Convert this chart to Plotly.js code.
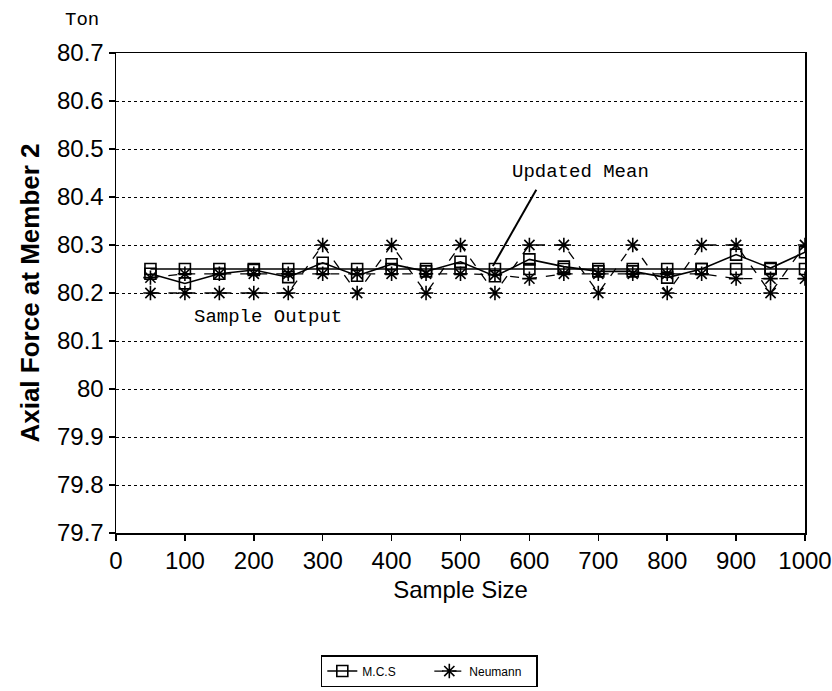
<!DOCTYPE html>
<html><head><meta charset="utf-8">
<script src="https://cdn.plot.ly/plotly-3.0.1.min.js"></script>
<style>html,body{margin:0;padding:0;background:#fff}#chart{width:832px;height:691px}</style>
</head><body><div id="chart"></div>
<script>
const sampleSize    = [50,100,150,200,250,300,350,400,450,500,550,600,650,700,750,800,850,900,950,1000];
const mcsSample     = [80.240,80.220,80.240,80.248,80.233,80.263,80.236,80.260,80.245,80.265,80.235,80.270,80.255,80.245,80.245,80.232,80.250,80.280,80.252,80.285];
const mcsMean       = [80.250,80.250,80.250,80.250,80.250,80.250,80.250,80.250,80.250,80.250,80.250,80.250,80.250,80.250,80.250,80.250,80.250,80.250,80.250,80.250];
const neumannSample = [80.2,80.2,80.2,80.2,80.2,80.3,80.2,80.3,80.2,80.3,80.2,80.3,80.3,80.2,80.3,80.2,80.3,80.3,80.2,80.3];
const neumannMean   = [80.232,80.240,80.240,80.240,80.240,80.240,80.240,80.240,80.240,80.240,80.238,80.230,80.240,80.240,80.240,80.240,80.240,80.230,80.230,80.230];
const yTickVals   = [79.7,79.8,79.9,80.0,80.1,80.2,80.3,80.4,80.5,80.6,80.7];
const yTickLabels = ["79.7","79.8","79.9","80","80.1","80.2","80.3","80.4","80.5","80.6","80.7"];
const xTickVals   = [0,100,200,300,400,500,600,700,800,900,1000];
const seriesNames = ["M.C.S","Neumann"];

const sq = {symbol:'square-open', size:11, color:'#000', line:{width:1.6,color:'#000'}};
const ast = {symbol:'asterisk-open', size:12, color:'#000', line:{width:1.6,color:'#000'}};

const traces = [
  {x:sampleSize, y:mcsMean, mode:'lines+markers', name:seriesNames[0], line:{color:'#000',width:1.6}, marker:sq, showlegend:true},
  {x:sampleSize, y:mcsSample, mode:'lines+markers', name:seriesNames[0], line:{color:'#000',width:1.6}, marker:sq, showlegend:false},
  {x:sampleSize, y:neumannSample, mode:'lines+markers', name:seriesNames[1], line:{color:'#000',width:1.3,dash:'dash'}, marker:ast, showlegend:true},
  {x:sampleSize, y:neumannMean, mode:'lines+markers', name:seriesNames[1], line:{color:'#000',width:1.3,dash:'dash'}, marker:ast, showlegend:false}
];

const layout = {
  width:832, height:691,
  margin:{l:116, r:27, t:53, b:158, autoexpand:false},
  paper_bgcolor:'#fff', plot_bgcolor:'#fff',
  font:{family:'Liberation Sans, Arial, sans-serif', color:'#000'},
  xaxis:{
    range:[0,1000], tickvals:xTickVals, ticktext:xTickVals.map(String),
    ticks:'outside', ticklen:6, tickwidth:1.5, tickcolor:'#000',
    showline:true, mirror:true, linecolor:'#000', linewidth:1.5,
    showgrid:false, zeroline:false,
    tickfont:{size:24, family:'Liberation Sans, Arial, sans-serif'},
    title:{text:'Sample Size', font:{size:24}, standoff:8}
  },
  yaxis:{
    range:[79.7,80.7], tickvals:yTickVals, ticktext:yTickLabels,
    ticks:'outside', ticklen:6, tickwidth:1.5, tickcolor:'#000',
    showline:true, mirror:true, linecolor:'#000', linewidth:1.5,
    showgrid:true, gridcolor:'#000', gridwidth:1, griddash:'dot', zeroline:false,
    tickfont:{size:24, family:'Liberation Sans, Arial, sans-serif'},
    title:{text:'<b>Axial Force at Member 2</b>', font:{size:26}, standoff:10}
  },
  legend:{
    orientation:'h', xref:'container', yref:'container', x:0.516, xanchor:'center', y:0.052, yanchor:'top',
    bordercolor:'#000', borderwidth:1.5, bgcolor:'#fff',
    font:{size:12, family:'Liberation Sans, Arial, sans-serif'},
    itemwidth:30, entrywidth:62, tracegroupgap:0
  },
  annotations:[
    {xref:'paper', yref:'paper', x:-0.05, y:1.068, xanchor:'center', yanchor:'middle', text:'Ton', showarrow:false, font:{family:'Liberation Mono, monospace', size:19}},
    {xref:'x', yref:'y', x:674, y:80.452, xanchor:'center', yanchor:'middle', text:'Updated Mean', showarrow:false, font:{family:'Liberation Mono, monospace', size:19}},
    {xref:'x', yref:'y', x:221, y:80.15, xanchor:'center', yanchor:'middle', text:'Sample Output', showarrow:false, font:{family:'Liberation Mono, monospace', size:19}}
  ],
  shapes:[
    {type:'line', xref:'x', yref:'y', x0:610, y0:80.415, x1:547, y1:80.256, line:{color:'#000', width:2}}
  ]
};

Plotly.newPlot('chart', traces, layout, {displayModeBar:false, staticPlot:true});
</script></body></html>
